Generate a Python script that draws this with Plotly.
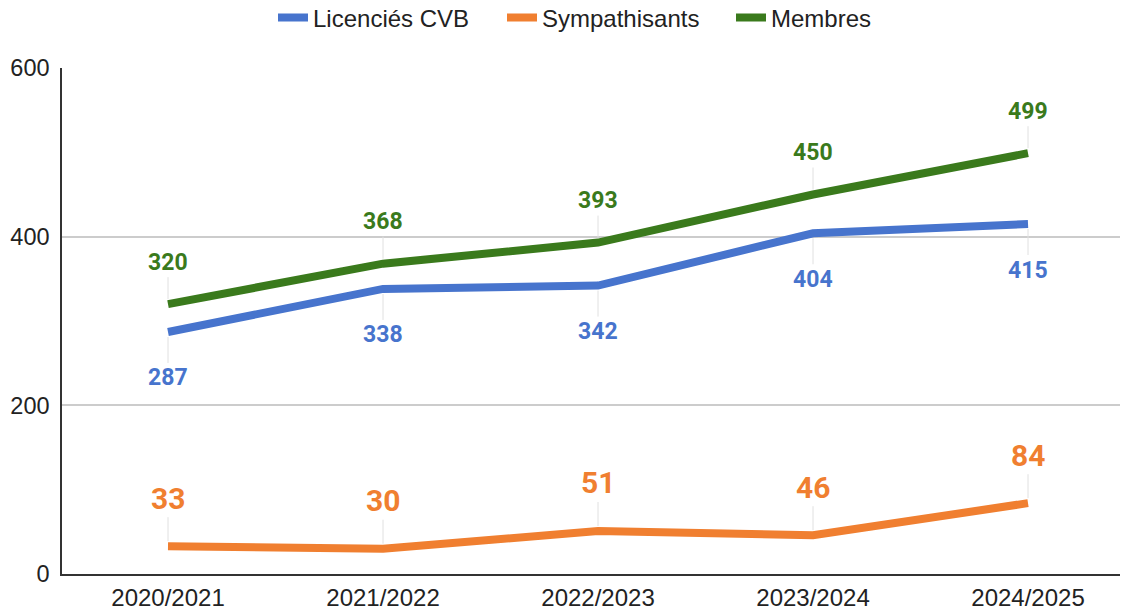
import plotly.graph_objects as go

seasons = ["2020/2021", "2021/2022", "2022/2023", "2023/2024", "2024/2025"]
licencies = [287, 338, 342, 404, 415]
sympathisants = [33, 30, 51, 46, 84]
membres = [320, 368, 393, 450, 499]
y_ticks = [0, 200, 400, 600]

BLUE = "#4774cd"
ORANGE = "#f07f30"
GREEN = "#3a7a1c"
LEADER = "#e0e0e0"

fig = go.Figure()
fig.add_trace(go.Scatter(x=seasons, y=licencies, mode="lines", name="Licenciés CVB",
                         line=dict(color=BLUE, width=8)))
fig.add_trace(go.Scatter(x=seasons, y=sympathisants, mode="lines", name="Sympathisants",
                         line=dict(color=ORANGE, width=8)))
fig.add_trace(go.Scatter(x=seasons, y=membres, mode="lines", name="Membres",
                         line=dict(color=GREEN, width=8)))

annotations = []
def add_labels(values, color, ay, size):
    for s, v in zip(seasons, values):
        annotations.append(dict(
            x=s, y=v, xref="x", yref="y", text=str(v), showarrow=True,
            arrowhead=0, arrowwidth=1, arrowcolor=LEADER, ax=0, ay=ay, standoff=5,
            font=dict(family="Roboto, Arial", size=size, color=color, weight="bold"),
        ))

add_labels(membres, GREEN, -42, 23)
add_labels(licencies, BLUE, 46, 23)
add_labels(sympathisants, ORANGE, -48, 30)

# page body has an 8px default margin, so figure coords = screen coords - 8
fig.update_layout(
    width=1128, height=613,
    margin=dict(l=54, r=8, t=60, b=47, autoexpand=False),
    paper_bgcolor="white", plot_bgcolor="white",
    font=dict(family="Liberation Sans, Arial, Helvetica", size=24, color="#222"),
    legend=dict(orientation="h", xref="container", yref="container",
                x=265 / 1128, xanchor="left", y=1 - 10 / 613, yanchor="middle",
                font=dict(size=24, color="#222"), itemwidth=30, entrywidth=184),
    annotations=annotations,
    showlegend=True,
)
fig.update_xaxes(type="category", range=[-0.493, 4.465], showgrid=False,
                 showline=True, linecolor="#333", linewidth=1.5, automargin=False,
                 ticks="", tickfont=dict(size=24, color="#222"), ticklabelstandoff=1)
fig.update_yaxes(range=[0, 600], tickvals=y_ticks, showgrid=True, gridcolor="#cccccc",
                 gridwidth=1.5, zeroline=False, showline=True, linecolor="#333",
                 linewidth=1.5, ticks="", tickfont=dict(size=23.5, color="#222"),
                 ticklabelstandoff=6, automargin=False)

fig.write_html("out.html")
